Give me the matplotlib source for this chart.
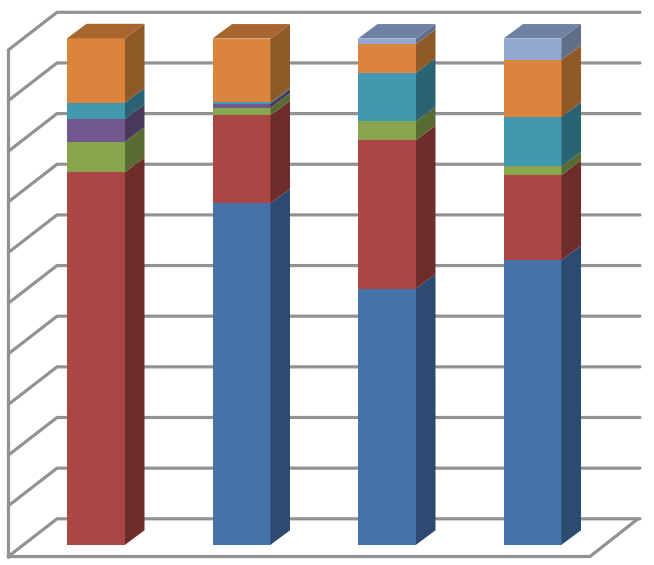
import matplotlib
matplotlib.use("Agg")
import matplotlib.pyplot as plt
from matplotlib.patches import Polygon
import numpy as np

categories = ["A", "B", "C", "D"]
blue = [0, 67.4, 50.6, 56.2]
red = [73.6, 17.4, 29.3, 16.8]
green = [6.0, 1.5, 3.7, 1.7]
purple = [4.5, 0.8, 0, 0]
teal = [3.2, 0.25, 9.6, 9.8]
orange = [12.7, 12.6, 5.7, 11.25]
lightblue = [0, 0, 1.05, 4.2]
grid_values = list(range(0, 101, 10))

series = [blue, red, green, purple, teal, orange, lightblue]
front = ["#4572A7", "#AA4643", "#89A54E", "#71588F", "#4198AF", "#DB843D", "#93A9CF"]
side = ["#2D4A70", "#6E2D2B", "#586B32", "#49395D", "#2A6372", "#8F5A28", "#606E87"]
top = ["#38608C", "#8A3A37", "#6F853F", "#5C4874", "#357B8E", "#A8662F", "#6F82A6"]

fig = plt.figure(figsize=(6.54, 5.65), dpi=100)
ax = fig.add_axes([0, 0, 1, 1])
ax.set_xlim(-96 / 145.5, (654 - 96) / 145.5)
ax.set_ylim((544.8 - 565) / 5.065, 544.8 / 5.065)
ax.axis("off")

bar_w = 58 / 145.5
dx, dy = 19.5 / 145.5, 14.5 / 5.065          # bar depth
wall_l_back, wall_l_front = (57 - 96) / 145.5, (8.3 - 96) / 145.5
wall_r_back, floor_r_front = (640 - 96) / 145.5, (590 - 96) / 145.5
back_off, front_off = 26 / 5.065, -11.7 / 5.065
wall_style = dict(color="#929292", lw=2.3, zorder=1, solid_capstyle="round", solid_joinstyle="round")

# back wall gridlines and left wall diagonals
for g in grid_values:
    ax.plot([wall_l_front, wall_l_back, wall_r_back],
            [g + front_off, g + back_off, g + back_off], **wall_style)
# left wall vertical and floor outline
ax.plot([wall_l_front, wall_l_front], [front_off, 100 + front_off], **wall_style)
ax.plot([wall_l_front, floor_r_front, wall_r_back - 2 / 145.5],
        [front_off, front_off, back_off], **wall_style)

x = np.arange(len(categories))
bottom = np.zeros(len(categories))
for vals, fc, sc in zip(series, front, side):
    vals = np.array(vals, dtype=float)
    ax.bar(x, vals, bottom=bottom, width=bar_w, color=fc, linewidth=0, zorder=3)
    for xi, b, v in zip(x, bottom, vals):
        if v > 0:
            r = xi + bar_w / 2
            ax.add_patch(Polygon([(r, b), (r + dx, b + dy), (r + dx, b + v + dy), (r, b + v)],
                                 closed=True, fc=sc, ec="none", zorder=3))
    bottom = bottom + vals

# top faces use the colour of the topmost non-empty series
for i, xi in enumerate(x):
    last = max(k for k, s in enumerate(series) if s[i] > 0)
    l, r, t = xi - bar_w / 2, xi + bar_w / 2, bottom[i]
    ax.add_patch(Polygon([(l, t), (r, t), (r + dx, t + dy), (l + dx, t + dy)],
                         closed=True, fc=top[last], ec="none", zorder=3))

fig.savefig("out.png", dpi=100)
